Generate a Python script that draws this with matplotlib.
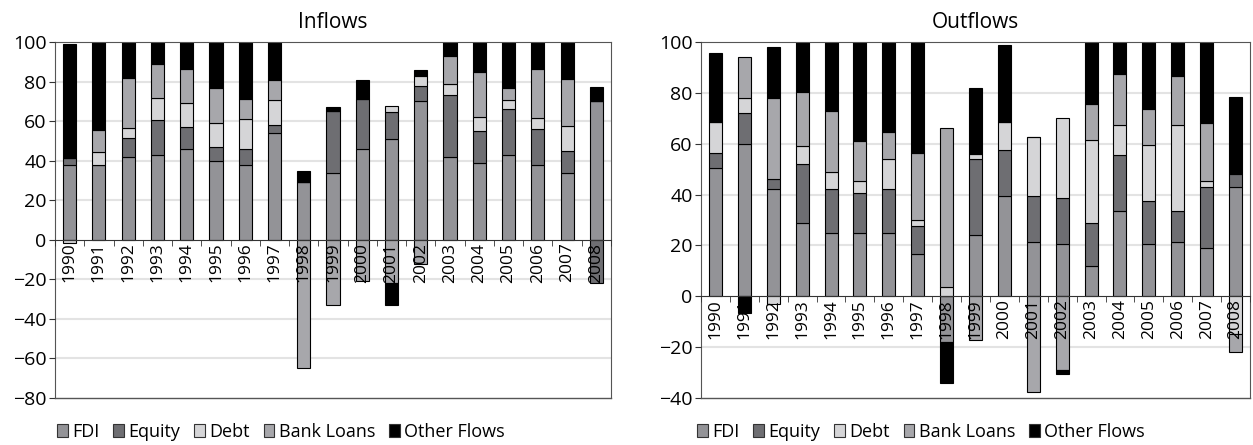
import matplotlib
matplotlib.use("Agg")
import matplotlib.pyplot as plt
import numpy as np
from matplotlib.patches import Patch

plt.rcParams["font.family"] = ["Open Sans", "DejaVu Sans"]

years = [str(y) for y in range(1990, 2009)]
series = ["FDI", "Equity", "Debt", "Bank Loans", "Other Flows"]
colors = ["#939397", "#6e6e72", "#d5d5d7", "#a7a7ab", "#000000"]

# inflows, % of total (columns clipped at 100 in the source)
in_fdi = [38, 38, 42, 43, 46, 40, 38, 54, 29, 34, 46, 51, 70, 42, 39, 43, 38, 34, 70]
in_equity = [3.5, 0, 9.5, 17.5, 11, 7, 8, 4, 0, 31, 25, 13.5, 8, 31, 16, 23, 18, 11, -22]
in_debt = [-1.5, 6.5, 5, 11, 12, 12, 15, 12.5, 0, 0, 0, 3, 5, 6, 7, 4.5, 5.5, 12.5, 0]
in_bank = [0, 11, 25.5, 17.5, 17.5, 17.5, 10, 10.5, -65, -33, -21, -22, -12, 14, 23, 6, 25, 24, 0]
in_other = [57.5, 50, 20, 15, 20, 25, 30, 22, 6, 2, 10, -11, 3, 10, 20, 30, 20, 25, 7]

# outflows
out_fdi = [50.5, 60, 42, 29, 25, 25, 25, 16.5, -18, 24, 39.5, 21.5, 20.5, 12, 33.5, 20.5, 21.5, 19, 43]
out_equity = [6, 12, 4, 23, 17, 15.5, 17, 11, 0, 30, 18, 18, 18, 17, 22, 17, 12, 24, 5]
out_debt = [12, 6, -3, 7, 7, 5, 12, 2.5, 3.5, 2, 11, 23, 31.5, 32.5, 12, 22, 34, 2.5, -15]
out_bank = [0, 16, 32, 21.5, 24, 15.5, 10.5, 26.5, 62.5, -17, 0, -37.5, -29, 14, 20, 14, 19, 22.5, -7]
out_other = [27, -6.5, 20, 25, 30, 45, 40, 50, -16, 26, 30.5, 0, -1.5, 30, 15, 30, 20, 40, 30.5]

inflows = [in_fdi, in_equity, in_debt, in_bank, in_other]
outflows = [out_fdi, out_equity, out_debt, out_bank, out_other]


def stacked(ax, data, ylo, title):
    x = np.arange(len(years))
    pos = np.zeros(len(years))
    neg = np.zeros(len(years))
    for vals, c in zip(data, colors):
        v = np.array(vals, dtype=float)
        bottom = np.where(v >= 0, pos, neg)
        ax.bar(x, v, bottom=bottom, width=0.45, color=c, edgecolor="black",
               linewidth=0.8, zorder=1)
        pos += np.clip(v, 0, None)
        neg += np.clip(v, None, 0)

    ax.set_xlim(-0.5, len(years) - 0.5)
    ax.set_ylim(ylo, 100)
    ax.set_yticks(np.arange(ylo, 101, 20))
    for y in np.arange(ylo + 20, 100, 20):
        if y != 0:
            ax.axhline(y, color="#e3e3e3", linewidth=1.5, zorder=0)

    ax.set_axisbelow(False)
    ax.spines["bottom"].set_position(("data", 0))
    ax.spines["bottom"].set_color("#333333")
    for s in ["top", "left", "right"]:
        ax.spines[s].set_color("#555555")
    ax.plot([0, 1], [0, 0], transform=ax.transAxes, color="#555555",
            linewidth=1, clip_on=False, zorder=3)

    ax.set_xticks(x)
    ax.set_xticklabels(years, rotation=90, va="top", ha="center")
    ax.set_xticks(np.arange(-0.5, len(years), 1), minor=True)
    ax.tick_params(axis="x", which="major", length=0, pad=2, labelsize=12.5)
    ax.tick_params(axis="x", which="minor", length=4, direction="out",
                   color="#333333")
    ax.tick_params(axis="y", length=4, direction="out", labelsize=14,
                   color="#333333", pad=2)
    ax.set_title(title, fontsize=15, pad=10)


fig = plt.figure(figsize=(12.53, 4.45), dpi=100)
ax1 = fig.add_axes([55 / 1253, 47 / 445, 556 / 1253, 356 / 445])
ax2 = fig.add_axes([701 / 1253, 47 / 445, 549 / 1253, 356 / 445])

stacked(ax1, inflows, -80, "Inflows")
stacked(ax2, outflows, -40, "Outflows")

handles = [Patch(facecolor=c, edgecolor="#333333", linewidth=0.8) for c in colors]
for cx in [281 / 1253, 921 / 1253]:
    fig.legend(handles, series, loc="center", bbox_to_anchor=(cx, 13 / 445),
               ncol=5, frameon=False, fontsize=13, handlelength=0.6,
               handleheight=0.75, handletextpad=0.25, columnspacing=0.75,
               borderaxespad=0)

fig.savefig("out.png", dpi=100)
